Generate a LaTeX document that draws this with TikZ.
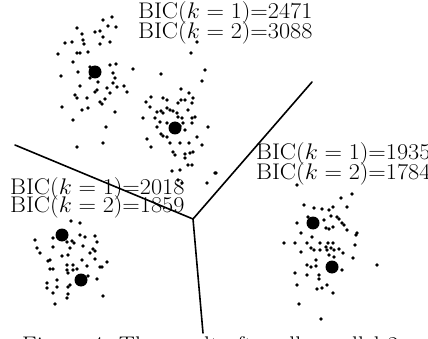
\RequirePackage{fix-cm}
\documentclass[tikz,border=0pt]{standalone}
\newcommand{\wide}[1]{\scalebox{1.072}[1]{#1}}
\begin{document}
\begin{tikzpicture}[x=1pt,y=-1pt,
  boundary/.style={line width=1.6pt,line cap=round},
  lbl/.style={anchor=base west,inner sep=0pt,font=\fontsize{22.6}{20}\selectfont},
  sdot/.style={fill=black},
  bdot/.style={fill=black}]
\useasboundingbox (0,0) rectangle (428,339);
% boundaries
\coordinate (J) at (193,219);
\coordinate (L) at (15,145);
\coordinate (R) at (312,82);
\coordinate (B) at (203,333);
\draw[boundary] (J) -- (L);
\draw[boundary] (J) -- (R);
\draw[boundary] (J) -- (B);
% small points
\foreach \p in {(112,17),(103,20),(108,26),(116,27),(77,28),(95,32),(100,31),(82,34),(65,43),(72,42),(83,40),(84,44),(103,37),(110,42),(100,44),(77,53),(80,53),(88,52),(58,54),(73,62),(90,67),(110,65),(116,64),(133,69),(78,72),(61,76),(113,73),(90,78),(98,82),(115,78),(113,83),(80,86),(117,87),(124,86),(107,88),(97,90),(95,92),(75,95),(110,93),(127,92),(77,98),(87,98),(105,99),(100,102),(102,104),(62,107),(82,110),(88,108),(115,112),(73,120),(106,127),(77,147),(103,143),(197,42),(191,53),(161,74),(205,70),(202,81)}
  \fill[sdot] \p circle (1.8);
\foreach \p in {(181,89),(189,93),(151,97),(163,98),(193,98),(167,100),(181,100),(185,100),(146,102),(178,103),(192,103),(150,107),(167,108),(157,112),(161,111),(170,110),(173,111),(177,113),(188,110),(163,113),(178,117),(143,118),(155,118),(182,118),(192,118),(195,117),(160,122),(167,123),(183,123),(192,123),(208,127),(157,127),(180,126),(185,130),(161,134),(163,136),(147,139),(167,137),(197,137),(170,143),(180,143),(189,143),(202,145),(151,147),(173,152),(175,155),(185,154),(190,153),(193,152),(185,158),(188,165),(192,165),(172,171),(180,170),(215,173),(178,180),(182,183),(207,183)}
  \fill[sdot] \p circle (1.8);
\foreach \p in {(71,221),(80,223),(53,238),(35,240),(67,242),(72,241),(74,243),(80,235),(85,237),(95,236),(97,242),(37,248),(53,247),(70,248),(83,246),(93,249),(95,251),(40,253),(90,253),(62,256),(68,255),(50,260),(48,261),(82,260),(95,259),(107,262),(67,265),(73,265),(50,269),(53,269),(87,266),(102,267),(100,267),(67,270),(73,270),(77,269),(68,273),(47,283),(57,280),(88,276),(97,279),(70,285),(68,287),(47,288),(57,287),(53,293),(68,294),(67,298),(103,296),(55,304)}
  \fill[sdot] \p circle (1.8);
\foreach \p in {(216,173),(297,185),(352,194),(341,198),(304,205),(314,208),(322,209),(329,210),(333,207),(347,207),(331,216),(337,217),(339,219),(308,217),(297,223),(324,220),(342,223),(344,225),(301,233),(329,229),(333,227),(326,228),(347,230),(357,233),(356,235),(312,237),(284,243),(295,243),(307,243),(320,243),(328,243),(333,243),(355,245),(301,252),(311,248),(314,250),(320,250),(326,247),(327,250),(331,248),(334,250),(339,249),(343,253),(329,255),(334,257),(353,258),(316,260),(307,265),(311,267),(316,266),(342,270),(377,265),(295,273),(307,275),(319,275),(319,279),(297,285),(317,289),(322,288),(327,285),(333,293),(299,304),(321,319)}
  \fill[sdot] \p circle (1.8);
% centroids
\foreach \p in {(95,72),(175,128),(62,235),(81,280),(313,223),(332,267)}
  \fill[bdot] \p circle (6.5);
% labels
\node[lbl] (t1) at (138,18.3) {\wide{BIC($k=1$)=2471}};
\node[lbl] (t2) at (138,38.3) {\wide{BIC($k=2$)=3088}};
\node[lbl] (l1) at (10,195) {\wide{BIC($k=1$)=2018}};
\node[lbl] (l2) at (10,212.5) {\wide{BIC($k=2$)=1859}};
\node[lbl] (r1) at (256,160) {\wide{BIC($k=1$)=1935}};
\node[lbl] (r2) at (256,179.5) {\wide{BIC($k=2$)=1784}};
\node[lbl] (cap) at (22,352.5) {\wide{Figure 4: The result after all parallel 2-means have terminated.}};
\end{tikzpicture}
\end{document}
